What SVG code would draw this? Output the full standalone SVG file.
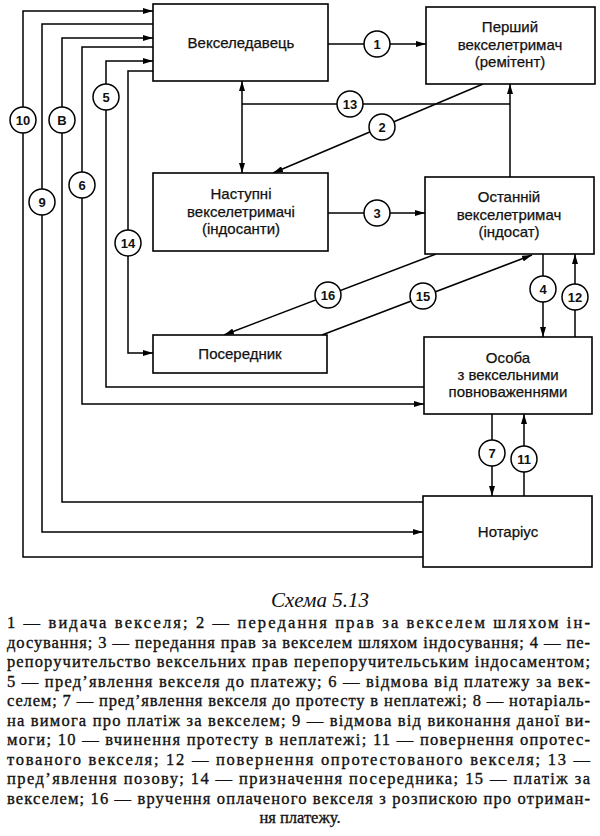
<svg xmlns="http://www.w3.org/2000/svg" width="600" height="836" viewBox="0 0 600 836">
<style>
.box{fill:#fff;stroke:#000;stroke-width:1.6}
.lbl{font-family:"Liberation Sans",Arial,sans-serif;font-size:15px;fill:#111;stroke:#111;stroke-width:0.25;text-anchor:middle}
.ln{fill:none;stroke:#000;stroke-width:1.5}
.arr{marker-end:url(#ah)}
.cir{fill:#fff;stroke:#000;stroke-width:1.5}
.num{font-family:"Liberation Sans",Arial,sans-serif;font-size:13px;font-weight:bold;fill:#111;text-anchor:middle}
.cap{font-family:"Liberation Serif","Times New Roman",serif;font-size:16.5px;fill:#111;stroke:#111;stroke-width:0.35}
.title{font-family:"Liberation Serif","Times New Roman",serif;font-size:21px;font-style:italic;fill:#111;text-anchor:middle}
</style>
<defs>
<marker id="ah" viewBox="0 0 10 6" refX="10" refY="3" markerWidth="10" markerHeight="6" markerUnits="userSpaceOnUse" orient="auto-start-reverse">
<path d="M0,0 L10,3 L0,6 Z" fill="#000"/>
</marker>
</defs>
<rect width="600" height="836" fill="#fff"/>

<g id="connectors">
<path class="ln arr" d="M328,44 H426"/>
<path class="ln arr" d="M483,84 L273,173"/>
<path class="ln arr" d="M328,213 H425"/>
<path class="ln arr" d="M543,254 V337"/>
<path class="ln arr" d="M575,337 V254"/>
<path class="ln arr" d="M492,414 V496"/>
<path class="ln arr" d="M524,496 V414"/>
<path class="ln" d="M242,81 V173" marker-start="url(#ah)" marker-end="url(#ah)"/>
<path class="ln" d="M242,104 H510"/>
<path class="ln arr" d="M510,177 V84"/>
<path class="ln arr" d="M436,254 L224,335"/>
<path class="ln arr" d="M322,335 L532,255"/>
<path class="ln arr" d="M424,387 H106 V61 H153"/>
<path class="ln arr" d="M153,47 H82 V404 H424"/>
<path class="ln arr" d="M423,502 H62 V38 H153"/>
<path class="ln arr" d="M153,24 H42 V532 H423"/>
<path class="ln arr" d="M423,557 H23 V11 H153"/>
<path class="ln arr" d="M153,71 H128 V353 H153"/>
<g id="labels">
<circle class="cir" cx="377" cy="44" r="13"/><text class="num" x="377" y="49">1</text>
<circle class="cir" cx="382" cy="127" r="13"/><text class="num" x="382" y="132">2</text>
<circle class="cir" cx="377" cy="213" r="13"/><text class="num" x="377" y="218">3</text>
<circle class="cir" cx="543" cy="289" r="13"/><text class="num" x="543" y="294">4</text>
<circle class="cir" cx="575" cy="297" r="13"/><text class="num" x="575" y="302">12</text>
<circle class="cir" cx="492" cy="453" r="13"/><text class="num" x="492" y="458">7</text>
<circle class="cir" cx="524" cy="459" r="13"/><text class="num" x="524" y="464">11</text>
<circle class="cir" cx="350" cy="104" r="13"/><text class="num" x="350" y="109">13</text>
<circle class="cir" cx="328" cy="295" r="13"/><text class="num" x="328" y="300">16</text>
<circle class="cir" cx="423" cy="296" r="13"/><text class="num" x="423" y="301">15</text>
<circle class="cir" cx="106" cy="97" r="13"/><text class="num" x="106" y="102">5</text>
<circle class="cir" cx="82" cy="185" r="13"/><text class="num" x="82" y="190">6</text>
<circle class="cir" cx="62" cy="120" r="13"/><text class="num" x="62" y="125">B</text>
<circle class="cir" cx="42" cy="202" r="13"/><text class="num" x="42" y="207">9</text>
<circle class="cir" cx="23" cy="120" r="13"/><text class="num" x="23" y="125">10</text>
<circle class="cir" cx="128" cy="243" r="13"/><text class="num" x="128" y="248">14</text>
</g>
</g>

<g id="vekseledavets">
<rect class="box" x="153" y="4" width="175" height="77"/>
<text class="lbl" x="241" y="48">Векселедавець</text>
</g>
<g id="pershyi">
<rect class="box" x="426" y="7" width="169" height="77"/>
<text class="lbl" x="510" y="32">Перший</text>
<text class="lbl" x="510" y="50">векселетримач</text>
<text class="lbl" x="510" y="67">(ремітент)</text>
</g>
<g id="nastupni">
<rect class="box" x="153" y="173" width="175" height="78"/>
<text class="lbl" x="241" y="199">Наступні</text>
<text class="lbl" x="241" y="217">векселетримачі</text>
<text class="lbl" x="241" y="234">(індосанти)</text>
</g>
<g id="ostannii">
<rect class="box" x="425" y="177" width="169" height="77"/>
<text class="lbl" x="509" y="202">Останній</text>
<text class="lbl" x="509" y="220">векселетримач</text>
<text class="lbl" x="509" y="237">(індосат)</text>
</g>
<g id="poserednyk">
<rect class="box" x="153" y="335" width="174" height="38"/>
<text class="lbl" x="240" y="359">Посередник</text>
</g>
<g id="osoba">
<rect class="box" x="424" y="337" width="168" height="77"/>
<text class="lbl" x="508" y="363">Особа</text>
<text class="lbl" x="508" y="380">з вексельними</text>
<text class="lbl" x="508" y="397">повноваженнями</text>
</g>
<g id="notarius">
<rect class="box" x="423" y="496" width="169" height="71"/>
<text class="lbl" x="508" y="537">Нотаріус</text>
</g>

<g id="caption">
<text class="title" x="320" y="607">Схема 5.13</text>
<text class="cap" x="7" y="628" textLength="583" lengthAdjust="spacing">1 — видача векселя; 2 — передання прав за векселем шляхом ін-</text>
<text class="cap" x="7" y="647.5" textLength="583" lengthAdjust="spacing">досування; 3 — передання прав за векселем шляхом індосування; 4 — пе-</text>
<text class="cap" x="7" y="667" textLength="583" lengthAdjust="spacing">репоручительство вексельних прав перепоручительським індосаментом;</text>
<text class="cap" x="7" y="686.5" textLength="583" lengthAdjust="spacing">5 — пред’явлення векселя до платежу; 6 — відмова від платежу за век-</text>
<text class="cap" x="7" y="706" textLength="583" lengthAdjust="spacing">селем; 7 — пред’явлення векселя до протесту в неплатежі; 8 — нотаріаль-</text>
<text class="cap" x="7" y="725.5" textLength="583" lengthAdjust="spacing">на вимога про платіж за векселем; 9 — відмова від виконання даної ви-</text>
<text class="cap" x="7" y="745" textLength="583" lengthAdjust="spacing">моги; 10 — вчинення протесту в неплатежі; 11 — повернення опротес-</text>
<text class="cap" x="7" y="764.5" textLength="583" lengthAdjust="spacing">тованого векселя; 12 — повернення опротестованого векселя; 13 —</text>
<text class="cap" x="7" y="784" textLength="583" lengthAdjust="spacing">пред’явлення позову; 14 — призначення посередника; 15 — платіж за</text>
<text class="cap" x="7" y="803.5" textLength="583" lengthAdjust="spacing">векселем; 16 — вручення оплаченого векселя з розпискою про отриман-</text>
<text class="cap" x="300" y="823" text-anchor="middle">ня платежу.</text>
</g>
</svg>
